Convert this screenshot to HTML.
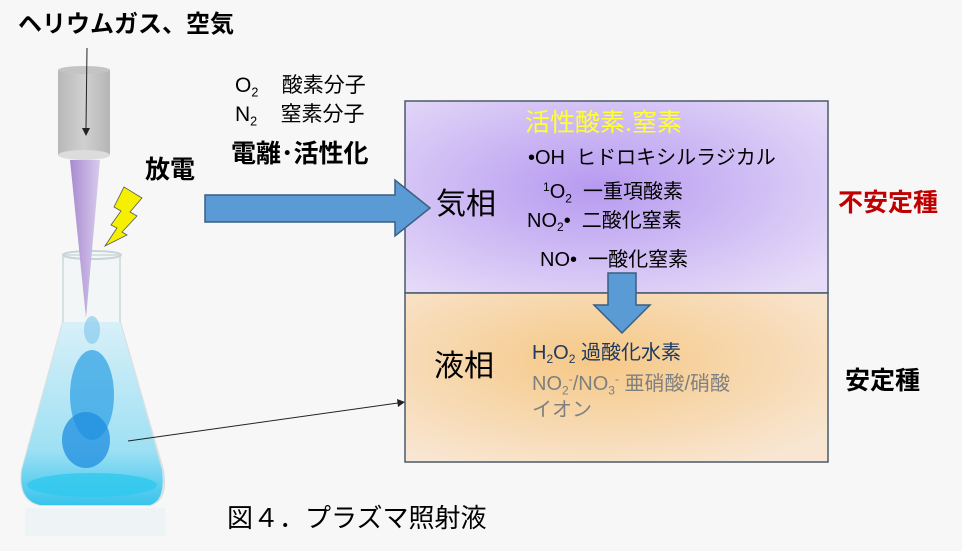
<!DOCTYPE html>
<html><head><meta charset="utf-8"><style>
body{margin:0;width:962px;height:551px;background:#f7f7f7;overflow:hidden;font-family:"Liberation Sans","Noto Sans CJK JP",sans-serif}
.t{position:absolute;white-space:nowrap;line-height:1}
sub{font-size:60%;vertical-align:-0.35em}sup{font-size:60%;vertical-align:0.6em}
</style></head><body>
<svg width="962" height="551" style="position:absolute;left:0;top:0">
<defs>
<radialGradient id="gp" cx="0.45" cy="0.45" r="0.7"><stop offset="0" stop-color="#b79af0"/><stop offset="1" stop-color="#e6dcf8"/></radialGradient>
<radialGradient id="go" cx="0.45" cy="0.4" r="0.7"><stop offset="0" stop-color="#f6c886"/><stop offset="1" stop-color="#f8e6d2"/></radialGradient>
<linearGradient id="cyl" x1="0" x2="1"><stop offset="0" stop-color="#b8b8b8"/><stop offset="0.5" stop-color="#d0d0d0"/><stop offset="1" stop-color="#b5b5b5"/></linearGradient>
<linearGradient id="beam" x1="0" x2="1"><stop offset="0" stop-color="#a88ad0"/><stop offset="1" stop-color="#d8ccec"/></linearGradient>
<linearGradient id="liq" x1="0" y1="0" x2="0" y2="1"><stop offset="0" stop-color="#d8f0f8"/><stop offset="0.7" stop-color="#9ee0f4"/><stop offset="1" stop-color="#38c4ec"/></linearGradient>
</defs>
<rect x="405" y="101" width="423" height="192" fill="url(#gp)" stroke="#4a5a6a" stroke-width="1.5"/>
<rect x="405" y="293" width="423" height="169" fill="url(#go)" stroke="#4a5a6a" stroke-width="1.5"/>
<rect x="58" y="70" width="52" height="85" fill="url(#cyl)"/>
<ellipse cx="84" cy="70" rx="26" ry="4" fill="#c4c4c4"/>
<ellipse cx="84" cy="155" rx="26" ry="5" fill="#dcdcdc"/>
<line x1="87" y1="48" x2="86" y2="128" stroke="#222" stroke-width="1"/>
<polygon points="82,128 90,128 86,136" fill="#222"/>
<polygon points="124,187 142,198 130,212 137,216 122,232 127,235 105,246 117,228 111,225 121,211 114,207" fill="#f5f000" stroke="#555" stroke-width="0.8"/>
<!-- flask -->
<path d="M63,255 L63,322 L22,470 Q18,500 40,505 L150,505 Q168,500 163,470 L120,322 L120,255 Z" fill="#f2f6f7" stroke="#d6e0e3" stroke-width="2"/>
<path d="M63,322 L120,322 L162,470 Q166,500 150,505 L40,505 Q18,500 22,470 Z" fill="url(#liq)"/>
<ellipse cx="92" cy="255" rx="29" ry="4" fill="none" stroke="#c8d4d8" stroke-width="2"/>
<ellipse cx="92" cy="330" rx="8" ry="14" fill="#7cc4ec" opacity="0.6"/>
<ellipse cx="92" cy="395" rx="22" ry="45" fill="#2a9ee4" opacity="0.7"/>
<ellipse cx="86" cy="440" rx="24" ry="28" fill="#1f8ee0" opacity="0.75"/>
<ellipse cx="92" cy="485" rx="65" ry="12" fill="#2fc8ee" opacity="0.8"/>
<rect x="25" y="508" width="140" height="28" fill="#e8f0f3" opacity="0.6"/>
<polygon points="70,160 100,160 86,318" fill="url(#beam)"/>
<line x1="128" y1="441" x2="398" y2="403" stroke="#222" stroke-width="1"/>
<polygon points="405,402 397,399 398,407" fill="#222"/>
<polygon points="205,195 395,195 395,180 430,208 395,236 395,222 205,222" fill="#5b9bd5" stroke="#3a5e80" stroke-width="1.5"/>
<polygon points="608,273 636,273 636,305 650,305 622,333 594,305 608,305" fill="#5b9bd5" stroke="#3a5e80" stroke-width="1.5"/>
</svg>
<div class="t" style="left:18px;top:13px;font-size:24px;font-weight:bold">ヘリウムガス、空気</div>
<div class="t" style="left:235px;top:75px;font-size:21px">O<sub>2</sub>&nbsp;&nbsp;&nbsp;&nbsp;酸素分子</div>
<div class="t" style="left:235px;top:104px;font-size:21px">N<sub>2</sub>&nbsp;&nbsp;&nbsp;&nbsp;窒素分子</div>
<div class="t" style="left:231px;top:142px;font-size:25px;font-weight:bold">電離･活性化</div>
<div class="t" style="left:145px;top:158px;font-size:25px;font-weight:bold">放電</div>
<div class="t" style="left:525px;top:111px;font-size:25px;color:#ffff33">活性酸素.窒素</div>
<div class="t" style="left:528px;top:148px;font-size:20px">•OH&nbsp;&nbsp;ヒドロキシルラジカル</div>
<div class="t" style="left:543px;top:181px;font-size:20px"><sup>1</sup>O<sub>2</sub>&nbsp;&nbsp;一重項酸素</div>
<div class="t" style="left:527px;top:211px;font-size:20px">NO<sub>2</sub>•&nbsp;&nbsp;二酸化窒素</div>
<div class="t" style="left:540px;top:250px;font-size:20px">NO•&nbsp;&nbsp;一酸化窒素</div>
<div class="t" style="left:436px;top:190px;font-size:30px">気相</div>
<div class="t" style="left:434px;top:352px;font-size:30px">液相</div>
<div class="t" style="left:532px;top:343px;font-size:20px;color:#1f3a60">H<sub>2</sub>O<sub>2</sub> 過酸化水素</div>
<div class="t" style="left:532px;top:373px;font-size:20px;color:#7f7f7f">NO<sub>2</sub><sup>-</sup>/NO<sub>3</sub><sup>-</sup> 亜硝酸/硝酸</div>
<div class="t" style="left:532px;top:400px;font-size:20px;color:#7f7f7f">イオン</div>
<div class="t" style="left:838px;top:191px;font-size:25px;font-weight:bold;color:#c00000">不安定種</div>
<div class="t" style="left:845px;top:369px;font-size:25px;font-weight:bold">安定種</div>
<div class="t" style="left:227px;top:505px;font-size:26px">図４．プラズマ照射液</div>
</body></html>
